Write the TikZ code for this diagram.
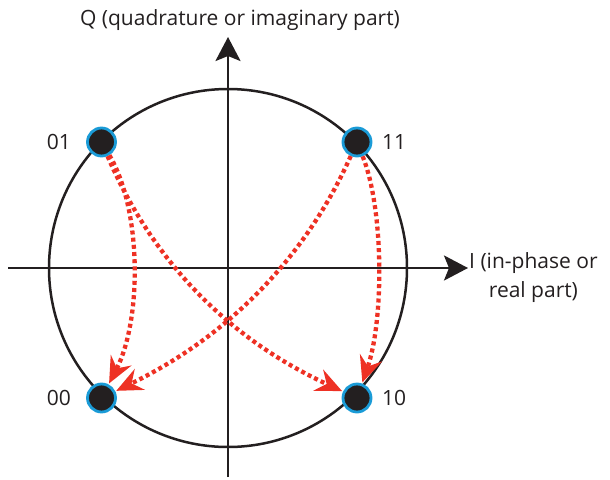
\documentclass[tikz,border=0pt]{standalone}
\usepackage{fontspec}
\setmainfont{Open Sans}
\usetikzlibrary{arrows.meta}
\definecolor{inkc}{HTML}{231F20}
\definecolor{redc}{HTML}{EE3124}
\definecolor{bluec}{HTML}{1A9BD7}
\tikzset{
  axisline/.style={draw=inkc, line width=2.6pt, -{Stealth[length=24pt,width=25pt,inset=5pt]}},
  ringline/.style={draw=inkc, line width=2.5pt},
  dotnode/.style={circle, fill=inkc, draw=bluec, line width=2.8pt, minimum size=28pt, inner sep=0pt},
  lbl/.style={font=\fontsize{21}{29}\selectfont, text=inkc, inner sep=0pt},
  jump/.style={draw=redc, line width=4.3pt, dash pattern=on 4pt off 3.2pt,
     -{Stealth[length=26pt,width=23pt,inset=9pt,fill=redc]}, shorten >=1pt},
}
\begin{document}
\begin{tikzpicture}[x=1pt,y=-1pt]
\useasboundingbox (0,0) rectangle (610,479);
\coordinate (c) at (228,268);
\coordinate (xl) at (8,268);
\coordinate (xr) at (468,268);
\coordinate (yb) at (228,477);
\coordinate (yt) at (228,37);
\draw[ringline] (c) circle[radius=179];
\draw[axisline] (xl) -- (xr);
\draw[axisline] (yb) -- (yt);

\node[dotnode] (d01) at (101.5,142) {};
\node[dotnode] (d11) at (357,142) {};
\node[dotnode] (d00) at (101.5,398) {};
\node[dotnode] (d10) at (357,398) {};

\node[lbl, anchor=east] (l01) at (71,142) {01};
\node[lbl, anchor=west] (l11) at (382,142) {11};
\node[lbl, anchor=east] (l00) at (71,398) {00};
\node[lbl, anchor=west] (l10) at (382,398) {10};

\node[lbl] (qlab) at (240,20) {Q (quadrature or imaginary part)};
\node[lbl, align=center, anchor=west] (ilab) at (469,278) {I (in-phase or\\real part)};

\draw[jump] (d01) .. controls (142,210) and (142,320) .. (d00);
\draw[jump] (d11) .. controls (384,210) and (384,320) .. (d10);
\draw[jump] (d01) .. controls (152,260) and (227,338) .. (d10);
\draw[jump] (d11) .. controls (304,261) and (225,338) .. (d00);
\end{tikzpicture}
\end{document}
